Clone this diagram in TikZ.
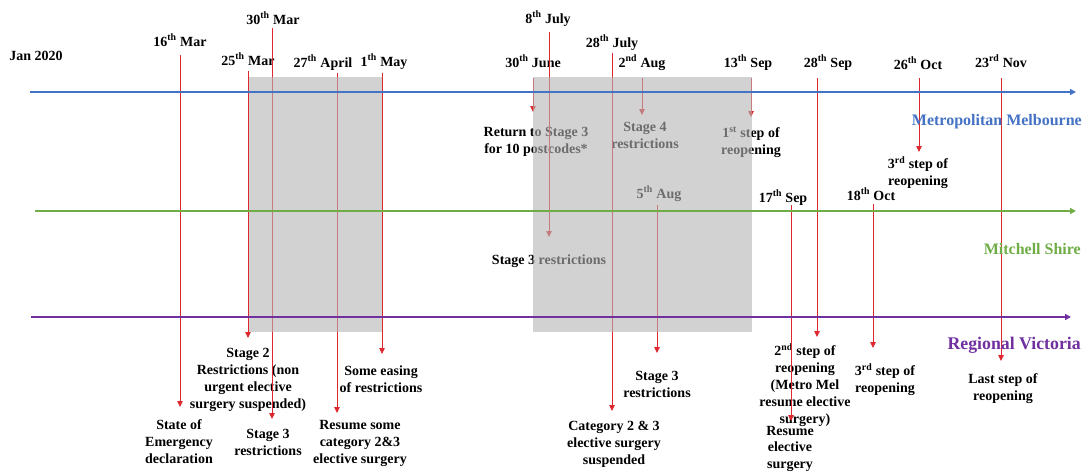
\documentclass[tikz,border=0pt]{standalone}
\usepackage{fontspec}
\setmainfont{Liberation Serif}
\usetikzlibrary{arrows.meta}
\definecolor{metro}{RGB}{68,114,196}
\definecolor{mitch}{RGB}{112,173,71}
\definecolor{regv}{RGB}{112,48,160}
\definecolor{evred}{RGB}{222,40,45}
\definecolor{boxgray}{RGB}{180,180,180}
\newcommand{\sups}[1]{\textsuperscript{#1}}
\begin{document}
\begin{tikzpicture}[x=1pt,y=-1pt,
  datelbl/.style={font=\bfseries\fontsize{14}{17}\selectfont, inner sep=0pt, anchor=base},
  evtext/.style={font=\bfseries\fontsize{14}{17}\selectfont, inner sep=0pt, align=center, anchor=north},
  evline/.style={draw=evred, line width=0.8pt, -{Triangle[width=5.5pt,length=6pt]}},
  lane/.style={line width=1.6pt, -{Triangle[width=6pt,length=6pt]}},
  lanelbl/.style={font=\bfseries\fontsize{16}{18}\selectfont, inner sep=0pt, anchor=base east},
  shade/.style={fill=boxgray, fill opacity=0.6, draw=none}]
\useasboundingbox[fill=white] (0,0) rectangle (1082,472);

% ---------- date labels ----------
\node[datelbl] (jan) at (36,60) {Jan 2020};
\node[datelbl] (d16mar) at (180,46) {16\sups{th} Mar};
\node[datelbl] (d30mar) at (273,24) {30\sups{th} Mar};
\node[datelbl] (d25mar) at (248,65) {25\sups{th} Mar};
\node[datelbl] (d27apr) at (323,67) {27\sups{th} April};
\node[datelbl] (d1may) at (384,66) {1\sups{th} May};
\node[datelbl] (d30jun) at (533,67) {30\sups{th} June};
\node[datelbl] (d8jul) at (548,23) {8\sups{th} July};
\node[datelbl] (d28jul) at (612,47) {28\sups{th} July};
\node[datelbl] (d2aug) at (642,67) {2\sups{nd} Aug};
\node[datelbl] (d13sep) at (748,67) {13\sups{th} Sep};
\node[datelbl] (d28sep) at (828,67) {28\sups{th} Sep};
\node[datelbl] (d26oct) at (918,69) {26\sups{th} Oct};
\node[datelbl] (d23nov) at (1001,67) {23\sups{rd} Nov};
\node[datelbl] (d5aug) at (659,198) {5\sups{th} Aug};
\node[datelbl] (d17sep) at (783,202) {17\sups{th} Sep};
\node[datelbl] (d18oct) at (871,200) {18\sups{th} Oct};

% ---------- event texts ----------
\node[evtext] (t16mar) at (179,419) {State of\\Emergency\\declaration};
\node[evtext] (t30mar) at (268,429) {Stage 3\\restrictions};
\node[evtext] (t25mar) at (248,348) {Stage 2\\Restrictions (non\\urgent elective\\surgery suspended)};
\node[evtext] (t27apr) at (360,420) {Resume some\\category 2\&3\\elective surgery};
\node[evtext] (t1may) at (381,366) {Some easing\\of restrictions};
\node[evtext] (t30jun) at (536,127) {Return to Stage 3\\for 10 postcodes*};
\node[evtext] (t8jul) at (549,255) {Stage 3 restrictions};
\node[evtext] (t28jul) at (614,421) {Category 2 \& 3\\elective surgery\\suspended};
\node[evtext] (t2aug) at (645,122) {Stage 4\\restrictions};
\node[evtext] (t13sep) at (751,127) {1\sups{st} step of\\reopening};
\node[evtext] (t28sep) at (805,343) {2\sups{nd} step of\\reopening\\(Metro Mel\\resume elective\\surgery)};
\node[evtext] (t26oct) at (918,156) {3\sups{rd} step of\\reopening};
\node[evtext] (t23nov) at (1003,373) {Last step of\\reopening};
\node[evtext] (t5aug) at (657,371) {Stage 3\\restrictions};
\node[evtext, font=\bfseries\fontsize{14}{16.5}\selectfont] (t17sep) at (790,426) {Resume\\elective\\surgery};
\node[evtext] (t18oct) at (885,363) {3\sups{rd} step of\\reopening};

% ---------- event connectors ----------
\coordinate (s16mar) at (180,55);  \coordinate (e16mar) at (180,407);
\coordinate (s30mar) at (272,28);  \coordinate (e30mar) at (272,419);
\coordinate (s25mar) at (248,71);  \coordinate (e25mar) at (248,338);
\coordinate (s27apr) at (337,73);  \coordinate (e27apr) at (337,413);
\coordinate (s1may) at (382,73);   \coordinate (e1may) at (382,354);
\coordinate (s30jun) at (533,78);  \coordinate (e30jun) at (533,112);
\coordinate (s8jul) at (549,32);   \coordinate (e8jul) at (549,237);
\coordinate (s28jul) at (612,53);  \coordinate (e28jul) at (612,411);
\coordinate (s2aug) at (642,78);   \coordinate (e2aug) at (642,115);
\coordinate (s13sep) at (751,78);  \coordinate (e13sep) at (751,117);
\coordinate (s28sep) at (817,78);  \coordinate (e28sep) at (817,337);
\coordinate (s26oct) at (919,78);  \coordinate (e26oct) at (919,152);
\coordinate (s23nov) at (1001,78); \coordinate (e23nov) at (1001,361);
\coordinate (s5aug) at (657,205);  \coordinate (e5aug) at (657,353);
\coordinate (s17sep) at (791,205); \coordinate (e17sep) at (791,421);
\coordinate (s18oct) at (873,204); \coordinate (e18oct) at (873,348);
\foreach \e in {16mar,30mar,25mar,27apr,1may,30jun,8jul,28jul,2aug,13sep,28sep,26oct,23nov,5aug,17sep,18oct}
  \draw[evline] (s\e) -- (e\e);

% ---------- shaded periods ----------
\path[shade] (249,77) rectangle (382,332);
\path[shade] (533,77) rectangle (752,332);

% ---------- lanes ----------
\coordinate (mA) at (30,92);  \coordinate (mB) at (1076,92);
\coordinate (gA) at (35,211); \coordinate (gB) at (1076,211);
\coordinate (pA) at (31,317); \coordinate (pB) at (1071,317);
\draw[lane, metro] (mA) -- (mB);
\draw[lane, mitch] (gA) -- (gB);
\draw[lane, regv] (pA) -- (pB);

\node[lanelbl, text=metro] (lmetro) at (1082,125) {Metropolitan Melbourne};
\node[lanelbl, text=mitch] (lmitch) at (1081,254) {Mitchell Shire};
\node[lanelbl, text=regv, font=\bfseries\fontsize{17.8}{20}\selectfont] (lregv) at (1081,349) {Regional Victoria};
\end{tikzpicture}
\end{document}
